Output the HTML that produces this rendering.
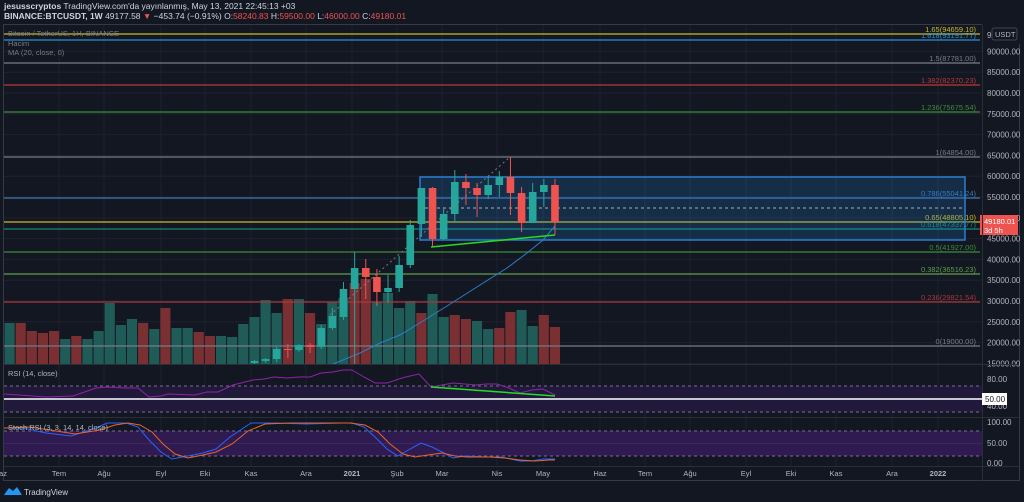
<!DOCTYPE html>
<html><head><meta charset="utf-8"><style>
body{margin:0;background:#131722;width:1024px;height:502px;overflow:hidden;font-family:"Liberation Sans",sans-serif}
svg{position:absolute;left:0;top:0}
</style></head><body>
<svg id="s" width="1024" height="502" xmlns="http://www.w3.org/2000/svg" font-family="Liberation Sans, sans-serif">
<rect width="1024" height="502" fill="#131722"/>
<text x="4" y="9" font-size="8.5" fill="#d1d4dc"><tspan font-weight="bold">jesusscryptos</tspan> TradingView.com'da yayınlanmış, May 13, 2021 22:45:13 +03</text>
<text x="4" y="19" font-size="8.5" fill="#d1d4dc"><tspan font-weight="bold">BINANCE:BTCUSDT, 1W</tspan> 49177.58 <tspan fill="#ef5350">▼</tspan> −453.74 (−0.91%) O:<tspan fill="#ef5350">58240.83</tspan> H:<tspan fill="#ef5350">59500.00</tspan> L:<tspan fill="#ef5350">46000.00</tspan> C:<tspan fill="#ef5350">49180.01</tspan></text>
<rect x="3.5" y="24.5" width="1016" height="456" fill="none" stroke="#363a45"/>
<g id="g"></g>
</svg>
<script>
const g=document.getElementById('g');let h='';
[59,104,161,205,251,306,352,397,442,497,543,600,645,690,746,791,836,892,938].forEach(x=>h+=`<line x1="${x}" y1="25" x2="${x}" y2="466" stroke="#1e222d"/>`);
for(let p=15000;p<=90000;p+=5000){let y=301+(30000-p)*0.00416;h+=`<line x1="4" y1="${y}" x2="982" y2="${y}" stroke="#1e222d"/>`;h+=`<text x="987" y="${y+3}" font-size="8" fill="#b2b5be">${p}.00</text>`;}
h+=`<rect x="982" y="24" width="38" height="20" fill="#131722"/><text x="987" y="38" font-size="8" fill="#b2b5be">9</text><rect x="992" y="28" width="25" height="12" rx="2" fill="#131722" stroke="#434651"/><text x="995" y="37" font-size="7.5" fill="#b2b5be">USDT</text>`;
const S=11.13;const cx=i=>9.6+S*i;
const vtop=[323,323,331,333,331,339,336,339,331,303,325,319,323,329,308,328,328,332,336,336,337,324,317,300,313,299,299,313,324,302,298,283,279,302,293,308,301,313,294,317,315,319,321,329,328,312,310,326,315,327];
const vcl="trrrrtrtttttrtrttrrttttttrtrtttrrttttrttrrttrrttr";
for(let i=0;i<vtop.length;i++){let X=4+S*i;h+=`<rect x="${X+0.5}" y="${vtop[i]}" width="${S-1}" height="${364-vtop[i]}" fill="${vcl[i]=='t'?'#1f5c58':'#7a3033'}"/>`;}
const fib=[[34,'#c9b82c','1.65(94659.10)'],[40,'#2a8fd6','1.618(93191.77)'],[63,'#787b86','1.5(87781.00)'],[85,'#b83a3a','1.382(82370.23)'],[112,'#3b8c3b','1.236(75675.54)'],[157,'#787b86','1(64854.00)'],[198,'#3f74b5','0.786(55041.24)'],[222,'#c9b82c','0.65(48805.10)'],[229,'#16857a','0.618(47337.77)'],[252,'#3b8c3b','0.5(41927.00)'],[274,'#5e9e4e','0.382(36516.23)'],[302,'#a8363a','0.236(29821.54)'],[346,'#787b86','0(19000.00)']];
fib.forEach(f=>{h+=`<line x1="4" y1="${f[0]}" x2="980" y2="${f[0]}" stroke="${f[1]}" stroke-width="1.2"/><text x="976" y="${f[0]-2}" font-size="7.5" text-anchor="end" fill="${f[1]}">${f[2]}</text>`;});
h+=`<rect x="420" y="177" width="545" height="63" fill="rgba(33,150,243,0.18)" stroke="#2a7fd0" stroke-width="1.5"/><line x1="425" y1="208" x2="965" y2="208" stroke="#aab" stroke-dasharray="3,3"/>`;
h+=`<line x1="330" y1="315" x2="510" y2="157" stroke="#787b86" stroke-dasharray="2,3"/>`;
h+=`<polyline fill="none" stroke="#2a7fc9" stroke-width="1" points="333,364 360,353 380,343 400,335 423,321 447,306 480,285 507,268 527,253 543,240 555,226"/>`;
const C=[[22,361,363,360,364,'g'],[23,359,361,358,363,'g'],[24,349,359,347,362,'g'],[25,349,350,344,358,'r'],[26,345,350,344,352,'g'],[27,345,347,343,353,'r'],[28,328,347,325,349,'g'],[29,316,328,308,330,'g'],[30,289,317,282,320,'g'],[31,268,289,252,364,'g'],[32,268,277,259,299,'r'],[33,277,292,269,306,'r'],[34,288,292,275,303,'g'],[35,265,288,256,292,'g'],[36,225,265,220,268,'g'],[37,188,224,188,237,'g'],[38,188,239,187,247,'r'],[39,214,239,208,240,'g'],[40,182,214,170,222,'g'],[41,182,188,174,205,'r'],[42,188,195,183,217,'r'],[43,185,195,177,199,'g'],[44,177,185,171,197,'g'],[45,177,193,157,215,'r'],[46,193,223,187,232,'r'],[47,192,223,183,222,'g'],[48,185,192,179,207,'g'],[49,185,222,179,235,'r']];
C.forEach(c=>{const x=cx(c[0]);const col=c[5]=='g'?'#26a69a':'#ef5350';h+=`<line x1="${x}" y1="${c[3]}" x2="${x}" y2="${c[4]}" stroke="${col}"/><rect x="${x-3.8}" y="${c[1]}" width="7.6" height="${Math.max(1,c[2]-c[1])}" fill="${col}"/>`;});
h+=`<line x1="431" y1="247" x2="555" y2="235" stroke="#22dd22" stroke-width="1.5"/>`;
h+=`<rect x="980" y="215" width="38" height="20" fill="#ef5350"/><text x="984" y="224" font-size="7.5" fill="#fff">49180.01</text><text x="984" y="233" font-size="7.5" fill="#fff">3d 5h</text>`;
h+=`<text x="8" y="36" font-size="7.5" fill="#787b86">Bitcoin / TetherUS, 1H, BINANCE</text><text x="8" y="46" font-size="7.5" fill="#787b86">Hacim</text><text x="8" y="55" font-size="7.5" fill="#787b86">MA (20, close, 0)</text>`;
h+=`<line x1="4" y1="364.5" x2="1019" y2="364.5" stroke="#2a2e39"/><line x1="4" y1="417.5" x2="1019" y2="417.5" stroke="#2a2e39"/><line x1="4" y1="466.5" x2="1019" y2="466.5" stroke="#2a2e39"/><line x1="982.5" y1="25" x2="982.5" y2="481" stroke="#2a2e39"/>`;
h+=`<rect x="4" y="386" width="978" height="26" fill="#21193a"/><line x1="4" y1="386" x2="982" y2="386" stroke="#7b6f99" stroke-dasharray="3,3"/><line x1="4" y1="412" x2="982" y2="412" stroke="#7b6f99" stroke-dasharray="3,3"/>`;
h+=`<polyline fill="none" stroke="#8e24aa" stroke-width="1" points="4,394 19,395 46,397 73,396 96,388 107,387 126,388 138,388 149,397 161,396 168,394 195,395 207,392 218,392 233,385 253,380 264,379 274,377 287,378 299,377 310,377 321,373 333,372 343,370 352,370 364,377 375,383 387,383 402,378 410,376 419,374 431,387 442,385 453,383 465,384 476,385 486,384 497,384 509,388 520,393 532,390 543,389 555,395"/>`;
h+=`<line x1="431" y1="387" x2="555" y2="396" stroke="#22dd22" stroke-width="1.5"/><line x1="4" y1="399" x2="982" y2="399" stroke="#fff" stroke-width="1.5"/>`;
h+=`<text x="8" y="376" font-size="7.5" fill="#b2b5be">RSI (14, close)</text><text x="987" y="382" font-size="8" fill="#b2b5be">80.00</text><text x="987" y="409" font-size="8" fill="#b2b5be">40.00</text><rect x="982" y="393" width="25" height="12" fill="#fff"/><text x="985" y="402" font-size="8" fill="#131722">50.00</text>`;
h+=`<rect x="4" y="431" width="978" height="25" fill="#2f1b4f"/><line x1="4" y1="431" x2="982" y2="431" stroke="#7b6f99" stroke-dasharray="3,3"/><line x1="4" y1="456" x2="982" y2="456" stroke="#7b6f99" stroke-dasharray="3,3"/><line x1="4" y1="443.5" x2="982" y2="443.5" stroke="#3a2860"/>`;
h+=`<polyline fill="none" stroke="#2962ff" stroke-width="1" points="4,428 23,428 46,433 71,436 96,428 107,423 126,423 138,427 149,440 161,452 172,459 188,456 203,453 216,449 230,437 251,423 276,423 306,424 341,423 352,423 364,427 375,437 387,449 398,456 410,449 421,443 432,447 444,453 453,458 465,456 486,457 501,457 520,461 532,461 543,459 555,459"/>`;
h+=`<polyline fill="none" stroke="#e8642a" stroke-width="1" points="4,428 30,427 50,430 75,434 100,430 115,425 128,423 140,425 152,432 163,444 175,454 188,458 203,455 216,452 232,444 248,431 265,424 290,423 320,423 350,423 365,425 378,432 390,444 403,454 415,457 428,455 442,453 455,456 467,457 490,457 505,458 520,460 535,461 550,460 555,460"/>`;
h+=`<text x="8" y="430" font-size="7.5" fill="#b2b5be">Stoch RSI (3, 3, 14, 14, close)</text><text x="987" y="425" font-size="8" fill="#b2b5be">100.00</text><text x="987" y="446" font-size="8" fill="#b2b5be">50.00</text><text x="987" y="466" font-size="8" fill="#b2b5be">0.00</text>`;
[['az',3],['Tem',59],['Ağu',104],['Eyl',161],['Eki',205],['Kas',251],['Ara',306],['2021',352],['Şub',397],['Mar',442],['Nis',497],['May',543],['Haz',600],['Tem',645],['Ağu',690],['Eyl',746],['Eki',791],['Kas',836],['Ara',892],['2022',938]].forEach(t=>h+=`<text x="${t[1]}" y="476" font-size="7.5" text-anchor="middle" fill="#b2b5be" ${t[0].match(/20/)?'font-weight="bold"':''}>${t[0]}</text>`);
h+=`<path d="M4 495 L9 488 L13 491 L17 487 L22 495 Z" fill="#2196f3"/><text x="24" y="495" font-size="8" fill="#d1d4dc">TradingView</text>`;
g.innerHTML=h;
</script>
</body></html>
